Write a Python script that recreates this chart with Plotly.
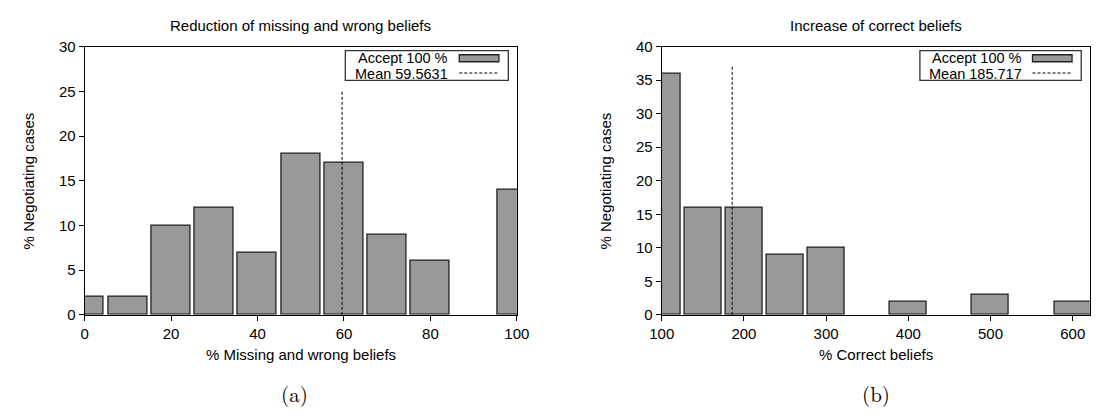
import plotly.graph_objects as go

# ---- data ----
left_bins = [0, 10, 20, 30, 40, 50, 60, 70, 80, 90, 100]
left_vals = [2, 2, 10, 12, 7, 18, 17, 9, 6, 0, 14]
left_mean = 59.5631
left_mean_top = 25

right_bins = [100, 150, 200, 250, 300, 350, 400, 450, 500, 550, 600]
right_vals = [36, 16, 16, 9, 10, 0, 2, 0, 3, 0, 2]
right_mean = 185.717
right_mean_top = 37

left_xticks = [0, 20, 40, 60, 80, 100]
left_yticks = [0, 5, 10, 15, 20, 25, 30]
right_xticks = [100, 200, 300, 400, 500, 600]
right_yticks = [0, 5, 10, 15, 20, 25, 30, 35, 40]

W, H = 1108, 420
FONT = "Liberation Sans, Arial, Helvetica, sans-serif"
SERIF = "Latin Modern Roman, CMU Serif, DejaVu Serif, serif"
BAR_FILL = "#999999"
BAR_LINE = "#222222"


def px(x, y):
    return x / W, 1 - y / H


def nonzero(xs, ys):
    pairs = [(a, b) for a, b in zip(xs, ys) if b != 0]
    return [p[0] for p in pairs], [p[1] for p in pairs]


fig = go.Figure()

lx, ly = nonzero(left_bins, left_vals)
fig.add_trace(go.Bar(x=lx, y=ly, width=9, marker=dict(color=BAR_FILL, line=dict(color=BAR_LINE, width=1.3)),
                     xaxis="x", yaxis="y", showlegend=False))
fig.add_trace(go.Scatter(x=[left_mean, left_mean], y=[0, left_mean_top], mode="lines",
                         line=dict(color="black", width=1, dash="3px,2px"), xaxis="x", yaxis="y", showlegend=False))

rx, ry = nonzero(right_bins, right_vals)
fig.add_trace(go.Bar(x=rx, y=ry, width=45, marker=dict(color=BAR_FILL, line=dict(color=BAR_LINE, width=1.3)),
                     xaxis="x2", yaxis="y2", showlegend=False))
fig.add_trace(go.Scatter(x=[right_mean, right_mean], y=[0, right_mean_top], mode="lines",
                         line=dict(color="black", width=1, dash="3px,2px"), xaxis="x2", yaxis="y2", showlegend=False))

ax_common = dict(showline=True, linecolor="black", linewidth=1, mirror=True, ticks="outside", ticklen=5,
                 tickcolor="black", showgrid=False, zeroline=False, tickfont=dict(family=FONT, size=15, color="black"))

L0, L1 = 73.3, 516.0
R0, R1 = 664.3, 1102.7
TOP, BOT = 39.3, 318.7
yb, yt = 1 - BOT / H, 1 - TOP / H
fig.update_layout(
    width=W, height=H, margin=dict(l=0, r=0, t=0, b=0),
    plot_bgcolor="white", paper_bgcolor="white", bargap=0,
    font=dict(family=FONT, size=15, color="black"),
    xaxis=dict(domain=[L0 / W, L1 / W], range=[0, 100], tickvals=left_xticks, anchor="y", **ax_common),
    yaxis=dict(domain=[yb, yt], range=[0, 30], tickvals=left_yticks, anchor="x", **ax_common),
    xaxis2=dict(domain=[R0 / W, R1 / W], range=[100, 620.8], tickvals=right_xticks, anchor="y2", **ax_common),
    yaxis2=dict(domain=[yb, yt], range=[0, 40], tickvals=right_yticks, anchor="x2", **ax_common),
)

ann = []


def text(x, y, s, size=15, xanchor="center", angle=0, family=FONT):
    X, Y = px(x, y)
    ann.append(dict(x=X, y=Y, xref="paper", yref="paper", text=s, showarrow=False, xanchor=xanchor, yanchor="middle",
                    textangle=angle, font=dict(family=family, size=size, color="black")))


lc = (L0 + L1) / 2
rc = (R0 + R1) / 2
# titles
text(lc, 17, "Reduction of missing and wrong beliefs")
text(rc, 17, "Increase of correct beliefs")
# axis titles
text(lc, 360, "% Missing and wrong beliefs")
text(rc, 360, "% Correct beliefs")
text(16, 179, "% Negotiating cases", angle=-90)
text(607, 179, "% Negotiating cases", angle=-90)
# sub-captions
text(288, 400, "(a)", size=21, family=SERIF)
text(884, 400, "(b)", size=21, family=SERIF)

# legends (manual, gnuplot style)
shapes = []


def legend(x0, x1, y0, y1, text_right, sx0, sx1, label1, label2):
    a, b = px(x0, y0)
    c, d = px(x1, y1)
    shapes.append(dict(type="rect", xref="paper", yref="paper", x0=a, x1=c, y0=d, y1=b,
                       line=dict(color="#333333", width=1.3), fillcolor="white", layer="above"))
    a, b = px(sx0, 47.7)
    c, d = px(sx1, 55)
    shapes.append(dict(type="rect", xref="paper", yref="paper", x0=a, x1=c, y0=d, y1=b,
                       line=dict(color=BAR_LINE, width=1.3), fillcolor=BAR_FILL, layer="above"))
    a, b = px(sx0, 66.7)
    c, _ = px(sx1, 66.7)
    shapes.append(dict(type="line", xref="paper", yref="paper", x0=a, x1=c, y0=b, y1=b,
                       line=dict(color="black", width=1, dash="3px,2px"), layer="above"))
    text(text_right, 50.6, label1, size=14.5, xanchor="right")
    text(text_right, 67.4, label2, size=14.5, xanchor="right")


legend(340.3, 507.2, 43.3, 74.3, 447.4, 457, 497.6, "Accept 100 %", "Mean 59.5631")
legend(928.7, 1093.9, 43.3, 74.3, 1035, 1044, 1084.5, "Accept 100 %", "Mean 185.717")

fig.update_layout(annotations=ann, shapes=shapes)
fig.write_html("out.html")
